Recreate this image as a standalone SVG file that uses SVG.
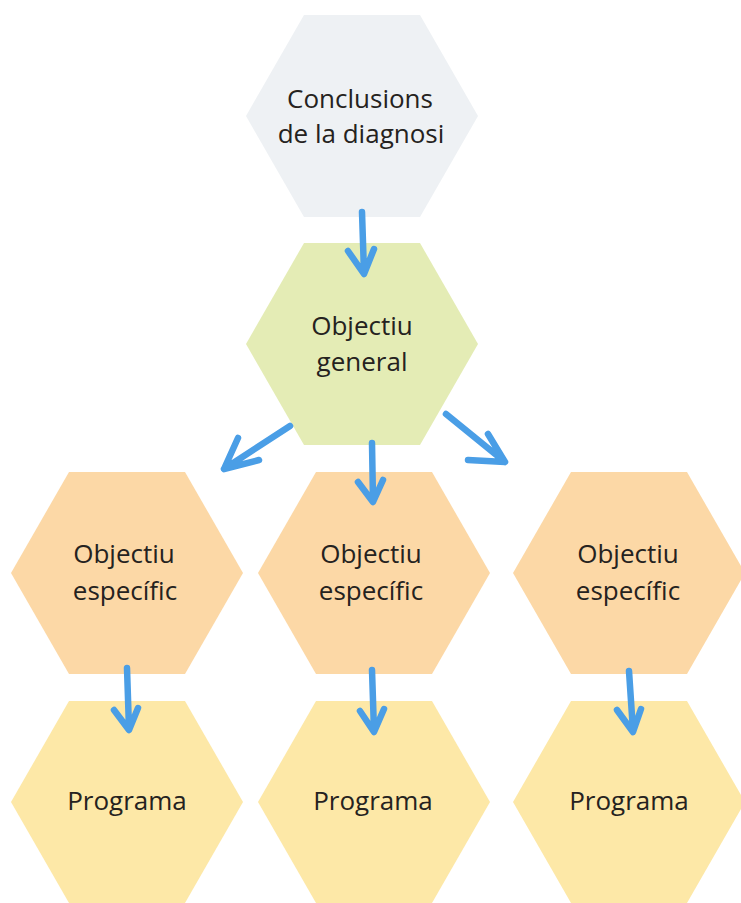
<svg xmlns="http://www.w3.org/2000/svg" width="741" height="903" viewBox="0 0 741 903">
<defs>
<style>
.t{font-family:"Open Sans","Noto Sans","Liberation Sans",sans-serif;font-size:26px;fill:#252220;text-anchor:middle}
.a{fill:none;stroke:#4A9EE6;stroke-width:6.5;stroke-linecap:round;stroke-linejoin:round}
.g{fill:#EEF1F4}.gr{fill:#E4ECB5}.o{fill:#FCD8A6}.y{fill:#FDE8A7}
</style>
<polygon id="hex" points="-116,0 -58,-101 58,-101 116,0 58,101 -58,101"/>
</defs>
<rect width="741" height="903" fill="#fff"/>
<g id="n-conclusions"><use href="#hex" class="g" x="362" y="116"/><text class="t" x="360" y="108">Conclusions</text><text class="t" x="361" y="143">de la diagnosi</text></g>
<g id="n-general"><use href="#hex" class="gr" x="362" y="344"/><text class="t" x="362" y="335">Objectiu</text><text class="t" x="362" y="371">general</text></g>
<g id="n-esp1"><use href="#hex" class="o" x="127" y="573"/><text class="t" x="124" y="563">Objectiu</text><text class="t" x="125" y="600">específic</text></g>
<g id="n-esp2"><use href="#hex" class="o" x="374" y="573"/><text class="t" x="371" y="563">Objectiu</text><text class="t" x="371" y="600">específic</text></g>
<g id="n-esp3"><use href="#hex" class="o" x="629" y="573"/><text class="t" x="628" y="563">Objectiu</text><text class="t" x="628" y="600">específic</text></g>
<g id="n-prog1"><use href="#hex" class="y" x="127" y="802"/><text class="t" x="127" y="810">Programa</text></g>
<g id="n-prog2"><use href="#hex" class="y" x="374" y="802"/><text class="t" x="373" y="810">Programa</text></g>
<g id="n-prog3"><use href="#hex" class="y" x="629" y="802"/><text class="t" x="629" y="810">Programa</text></g>
<g id="connectors">
<path class="a" d="M362,212 L364,273 M348,251 L364,274 L374,249"/>
<path class="a" d="M290,426 L224,469 M238,438 L224,469 L259,460"/>
<path class="a" d="M446,414 L505,462 M488,434 L505,462 L468,460"/>
<path class="a" d="M372,443 L373,501 M358,482 L373,502 L383,480"/>
<path class="a" d="M127,668 L129,729 M114,710 L129,730 L138,708"/>
<path class="a" d="M372,670 L374,731 M360,711 L374,732 L384,709"/>
<path class="a" d="M629,671 L633,731 M617,710 L633,732 L641,709"/>
</g>
</svg>
